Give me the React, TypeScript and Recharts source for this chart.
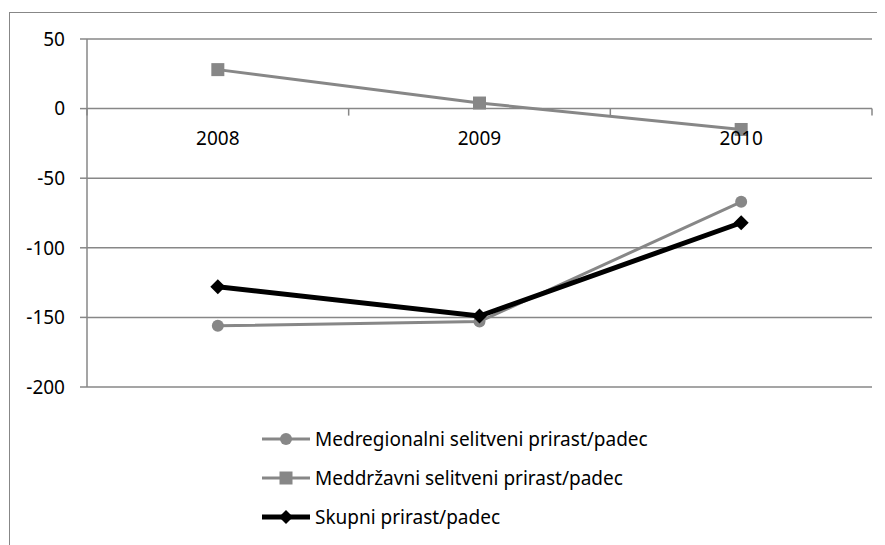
import React from "react";
import { LineChart, Line, XAxis, YAxis, CartesianGrid, Legend } from "recharts";

const categories = ["2008", "2009", "2010"];
const medregionalni = [-156, -153, -67];
const meddrzavni = [28, 4, -15];
const skupni = [-128, -149, -82];
const yTicks = [50, 0, -50, -100, -150, -200];

const seriesOrder = ["medregionalni", "meddrzavni", "skupni"];
const seriesNames = {
  medregionalni: "Medregionalni selitveni prirast/padec",
  meddrzavni: "Meddržavni selitveni prirast/padec",
  skupni: "Skupni prirast/padec",
};

const data = categories.map((year, i) => ({
  year,
  medregionalni: medregionalni[i],
  meddrzavni: meddrzavni[i],
  skupni: skupni[i],
}));

const GRAY = "#878787";
const FONT = "'Noto Sans', 'Liberation Sans', sans-serif";
const CHART_W = 877;
const CHART_H = 537;
const X_AXIS_H = 1;
const MARGIN = { top: 31, right: 13, bottom: 157, left: 0 };
const PLOT_H = CHART_H - MARGIN.top - MARGIN.bottom - X_AXIS_H;
const Y_MIN = -200;
const Y_MAX = 50;

// category labels sit under the zero line, Excel style
const renderXTick = (props: any) => {
  const { x, y, payload, index, visibleTicksCount } = props;
  const half = payload?.offset ?? 0;
  const zeroY = y - (PLOT_H * (0 - Y_MIN)) / (Y_MAX - Y_MIN);
  const last = index === visibleTicksCount - 1;
  return (
    <g key={`xt-${index}`}>
      <line x1={x - half} x2={x - half} y1={zeroY} y2={zeroY + 7} stroke={GRAY} strokeWidth={1.5} />
      {last && <line x1={x + half} x2={x + half} y1={zeroY} y2={zeroY + 7} stroke={GRAY} strokeWidth={1.5} />}
      <text x={x} y={zeroY + 36} textAnchor="middle" fill="#000" fontSize={19} fontFamily={FONT}>
        {payload.value}
      </text>
    </g>
  );
};

const squareDot = (props: any) => {
  const { cx, cy, index } = props;
  return <rect key={`sq-${index}`} x={cx - 6.5} y={cy - 6.5} width={13} height={13} fill={GRAY} />;
};

const diamondDot = (props: any) => {
  const { cx, cy, index } = props;
  const r = 7.5;
  return (
    <path
      key={`dm-${index}`}
      d={`M${cx},${cy - r} L${cx + r},${cy} L${cx},${cy + r} L${cx - r},${cy} Z`}
      fill="#000"
    />
  );
};

const LegendIcon = ({ dataKey }: { dataKey: string }) => {
  const color = dataKey === "skupni" ? "#000" : GRAY;
  const sw = dataKey === "skupni" ? 5 : 3;
  return (
    <svg width={50} height={20} style={{ display: "block" }}>
      <line x1={1} x2={49} y1={10} y2={10} stroke={color} strokeWidth={sw} />
      {dataKey === "medregionalni" && <circle cx={25} cy={10} r={6} fill={GRAY} />}
      {dataKey === "meddrzavni" && <rect x={18.5} y={3.5} width={13} height={13} fill={GRAY} />}
      {dataKey === "skupni" && <path d="M25,3 L32,10 L25,17 L18,10 Z" fill="#000" />}
    </svg>
  );
};

const renderLegend = (props: any) => {
  const payload = [...(props.payload || [])].sort(
    (a: any, b: any) => seriesOrder.indexOf(a.dataKey) - seriesOrder.indexOf(b.dataKey)
  );
  return (
    <div style={{ fontFamily: FONT, fontSize: 19, color: "#000" }}>
      {payload.map((entry: any) => (
        <div key={entry.dataKey} style={{ display: "flex", alignItems: "center", height: 39 }}>
          <LegendIcon dataKey={entry.dataKey} />
          <span style={{ marginLeft: 4 }}>{entry.value}</span>
        </div>
      ))}
    </div>
  );
};

export default function App() {
  return (
    <div style={{ position: "relative", width: CHART_W, height: CHART_H, overflow: "hidden", background: "#fff" }}>
      <div
        style={{
          position: "absolute",
          left: 1,
          top: 4,
          width: 1000,
          height: 1000,
          borderLeft: `1.5px solid ${GRAY}`,
          borderTop: `1.5px solid ${GRAY}`,
        }}
      />
      <LineChart width={CHART_W} height={CHART_H} data={data} margin={MARGIN}>
        <CartesianGrid vertical={false} stroke={GRAY} strokeWidth={1.5} />
        <YAxis
          width={79}
          domain={[Y_MIN, Y_MAX]}
          ticks={yTicks}
          interval={0}
          axisLine={{ stroke: GRAY, strokeWidth: 1.5 }}
          tickLine={{ stroke: GRAY, strokeWidth: 1.5 }}
          tickSize={7}
          tickMargin={15}
          tick={{ fill: "#000", fontSize: 19, fontFamily: FONT }}
        />
        <Line
          dataKey="medregionalni"
          name={seriesNames.medregionalni}
          stroke={GRAY}
          strokeWidth={3}
          dot={{ r: 6, fill: GRAY, stroke: GRAY, strokeWidth: 0 }}
          isAnimationActive={false}
        />
        <Line
          dataKey="meddrzavni"
          name={seriesNames.meddrzavni}
          stroke={GRAY}
          strokeWidth={3}
          dot={squareDot}
          isAnimationActive={false}
        />
        <Line
          dataKey="skupni"
          name={seriesNames.skupni}
          stroke="#000"
          strokeWidth={5}
          dot={diamondDot}
          isAnimationActive={false}
        />
        <XAxis
          dataKey="year"
          scale="band"
          height={X_AXIS_H}
          axisLine={false}
          tickLine={false}
          tickSize={0}
          tickMargin={0}
          interval={0}
          tick={renderXTick}
        />
        <Legend
          layout="vertical"
          align="center"
          verticalAlign="middle"
          content={renderLegend}
          wrapperStyle={{ top: 411, left: 253, width: "auto" }}
        />
      </LineChart>
    </div>
  );
}
